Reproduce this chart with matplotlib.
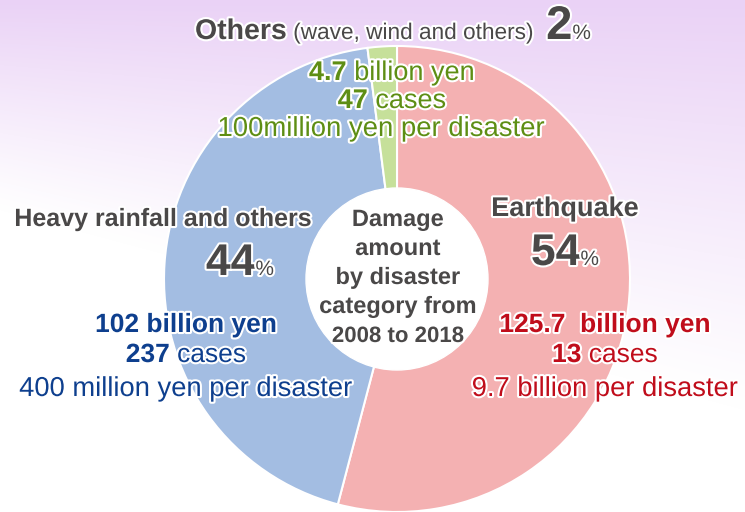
import numpy as np
import matplotlib
matplotlib.use("Agg")
import matplotlib.pyplot as plt
import matplotlib.patheffects as pe
from matplotlib.patches import Circle
from matplotlib import font_manager

# damage amount by disaster category, 2008-2018 (billion yen)
categories = ["Earthquake", "Heavy rainfall and others", "Others"]
amounts = [125.7, 102, 4.7]
shares = [54, 44, 2]
cases = [13, 237, 47]
colors = ["#F4B1B2", "#A3BDE2", "#C6E09A"]

names = [f.name for f in font_manager.fontManager.ttflist]
narrow = "Liberation Sans Narrow" if "Liberation Sans Narrow" in names else "Liberation Sans"
plt.rcParams["font.family"] = ["Liberation Sans", "DejaVu Sans"]

W, H = 745, 512
fig = plt.figure(figsize=(W / 100, H / 100), dpi=100)
ax = fig.add_axes([0, 0, 1, 1])

# soft lavender background, fading to white toward the bottom
yy, xx = np.mgrid[0:H, 0:W]
t = np.clip(1 - yy / (210 + 200 * xx / W), 0, 1) ** 1.1
top = np.array([234, 210, 246]) / 255
bg = 1 - t[..., None] * (1 - top)
ax.imshow(bg, extent=(0, W, 0, H), origin="upper", zorder=0)

cx, cy, R, r = 397, H - 279, 233, 91
wedges, _ = ax.pie(amounts, colors=colors, startangle=90, counterclock=False,
                   radius=R, center=(cx, cy),
                   wedgeprops=dict(edgecolor="white", linewidth=1.5))
for w in wedges:
    w.set_zorder(2)
ax.add_patch(Circle((cx, cy), r, facecolor="white", edgecolor="white", zorder=3))

ax.set_xlim(0, W)
ax.set_ylim(0, H)
ax.set_aspect("equal")
ax.axis("off")

renderer = fig.canvas.get_renderer()
stroke = [pe.withStroke(linewidth=3, foreground="white")]


def line(xc, y_img, parts):
    # parts: (text, size, weight, color, family)
    objs = []
    for txt, size, weight, color, fam in parts:
        o = ax.text(0, H - y_img, txt, fontsize=size, fontweight=weight, color=color,
                    family=fam, ha="left", va="baseline", zorder=5, path_effects=stroke)
        objs.append(o)
    widths = [o.get_window_extent(renderer).width for o in objs]
    x = xc - sum(widths) / 2
    for o, w in zip(objs, widths):
        o.set_x(x)
        x += w


gray = "#4A4848"
green = "#5E8E14"
blue = "#0E3F8E"
red = "#C00D1B"
sans = "Liberation Sans"

# Others
line(393, 39, [("Others", 20.5, "bold", gray, narrow),
               (" (wave, wind and others)  ", 16.3, "normal", gray, narrow),
               ("2", 34, "bold", gray, sans), ("%", 15, "normal", gray, sans)])
line(392, 80, [("4.7", 19.5, "bold", green, narrow), (" billion yen", 19.5, "normal", green, narrow)])
line(392, 108, [(str(cases[2]), 19.5, "bold", green, narrow), (" cases", 19.5, "normal", green, narrow)])
line(381, 136, [("100million yen per disaster", 19.8, "normal", green, narrow)])

# Heavy rainfall
line(163, 226, [(categories[1], 18, "bold", gray, narrow)])
line(240, 275, [(str(shares[1]), 32, "bold", gray, sans), ("%", 15, "normal", gray, sans)])
line(186, 332, [("102 billion yen", 19, "bold", blue, sans)])
line(186, 362, [(str(cases[1]), 19, "bold", blue, sans), (" cases", 19, "normal", blue, sans)])
line(186, 396, [("400 million yen per disaster", 19.7, "normal", blue, sans)])

# Earthquake
line(565, 216, [(categories[0], 19.5, "bold", gray, sans)])
line(565, 265, [(str(shares[0]), 32, "bold", gray, sans), ("%", 15, "normal", gray, sans)])
line(605, 332, [("125.7  billion yen", 19, "bold", red, sans)])
line(605, 362, [(str(cases[0]), 19, "bold", red, sans), (" cases", 19, "normal", red, sans)])
line(605, 396, [("9.7 billion per disaster", 19.7, "normal", red, sans)])

# centre label
for i, s in enumerate(["Damage", "amount", "by disaster", "category from", "2008 to 2018"]):
    line(398, 226 + 29 * i, [(s, 17 if i < 4 else 16, "bold", gray, narrow)])

fig.savefig("out.png", dpi=100)
